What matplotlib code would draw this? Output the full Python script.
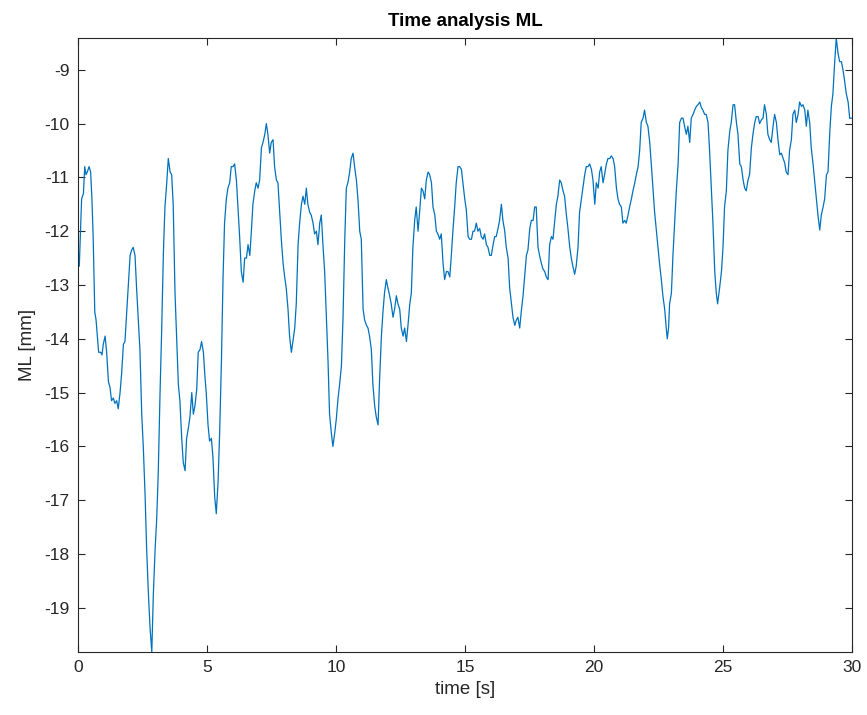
"""Time analysis of the ML (medio-lateral) sway signal."""

import matplotlib
matplotlib.use("Agg")
import matplotlib.pyplot as plt

# values
time_s = [
    0.00, 0.05, 0.14, 0.21, 0.26, 0.31, 0.36, 0.43, 0.49, 0.54, 0.59, 0.65, 0.70, 0.75, 0.80,
    0.88, 0.93, 0.98, 1.05, 1.11, 1.18, 1.24, 1.30, 1.37, 1.43, 1.50, 1.56, 1.63, 1.69, 1.76,
    1.82, 1.89, 1.95, 2.02, 2.08, 2.14, 2.21, 2.27, 2.34, 2.40, 2.47, 2.53, 2.60, 2.66, 2.73,
    2.79, 2.86, 2.92, 2.99, 3.05, 3.11, 3.18, 3.24, 3.31, 3.37, 3.44, 3.50, 3.57, 3.63, 3.69,
    3.76, 3.82, 3.89, 3.95, 4.02, 4.08, 4.15, 4.21, 4.28, 4.34, 4.41, 4.47, 4.53, 4.60, 4.66,
    4.73, 4.79, 4.86, 4.92, 4.97, 5.04, 5.10, 5.17, 5.23, 5.30, 5.36, 5.43, 5.49, 5.56, 5.62,
    5.68, 5.75, 5.81, 5.88, 5.94, 6.01, 6.07, 6.14, 6.20, 6.27, 6.33, 6.40, 6.46, 6.53, 6.59,
    6.66, 6.72, 6.78, 6.85, 6.91, 6.98, 7.04, 7.11, 7.17, 7.24, 7.30, 7.36, 7.43, 7.49, 7.56,
    7.62, 7.69, 7.75, 7.82, 7.88, 7.95, 8.01, 8.07, 8.14, 8.20, 8.27, 8.33, 8.40, 8.46, 8.53,
    8.59, 8.66, 8.72, 8.79, 8.85, 8.91, 8.98, 9.04, 9.11, 9.17, 9.24, 9.30, 9.37, 9.43, 9.50,
    9.56, 9.63, 9.69, 9.75, 9.82, 9.88, 9.95, 10.01, 10.08, 10.14, 10.21, 10.27, 10.34, 10.40,
    10.46, 10.53, 10.59, 10.66, 10.72, 10.79, 10.85, 10.92, 10.98, 11.05, 11.11, 11.18, 11.24,
    11.30, 11.37, 11.43, 11.50, 11.56, 11.63, 11.69, 11.76, 11.82, 11.88, 11.95, 12.01, 12.08,
    12.14, 12.21, 12.27, 12.34, 12.40, 12.47, 12.53, 12.60, 12.66, 12.73, 12.79, 12.86, 12.92,
    12.98, 13.05, 13.11, 13.18, 13.24, 13.31, 13.37, 13.44, 13.50, 13.57, 13.63, 13.70, 13.76,
    13.83, 13.89, 13.95, 14.02, 14.08, 14.15, 14.21, 14.28, 14.34, 14.41, 14.47, 14.53, 14.60,
    14.66, 14.73, 14.79, 14.86, 14.92, 14.99, 15.05, 15.12, 15.18, 15.25, 15.31, 15.37, 15.44,
    15.50, 15.57, 15.63, 15.70, 15.76, 15.83, 15.89, 15.96, 16.02, 16.09, 16.15, 16.21, 16.28,
    16.34, 16.41, 16.47, 16.54, 16.60, 16.67, 16.73, 16.80, 16.86, 16.93, 16.99, 17.05, 17.12,
    17.18, 17.25, 17.31, 17.38, 17.44, 17.51, 17.57, 17.64, 17.70, 17.76, 17.83, 17.89, 17.96,
    18.02, 18.09, 18.15, 18.22, 18.28, 18.35, 18.41, 18.47, 18.54, 18.60, 18.67, 18.73, 18.80,
    18.86, 18.93, 18.99, 19.06, 19.12, 19.18, 19.25, 19.31, 19.38, 19.44, 19.51, 19.57, 19.64,
    19.70, 19.77, 19.83, 19.90, 19.96, 20.03, 20.09, 20.16, 20.22, 20.28, 20.35, 20.41, 20.48,
    20.54, 20.61, 20.67, 20.74, 20.80, 20.87, 20.93, 20.99, 21.06, 21.12, 21.19, 21.25, 21.32,
    21.38, 21.45, 21.51, 21.58, 21.64, 21.71, 21.77, 21.83, 21.90, 21.96, 22.03, 22.09, 22.16,
    22.22, 22.29, 22.35, 22.42, 22.48, 22.54, 22.61, 22.67, 22.74, 22.80, 22.84, 22.89, 22.93,
    23.00, 23.06, 23.13, 23.19, 23.26, 23.32, 23.39, 23.45, 23.51, 23.58, 23.64, 23.71, 23.77,
    23.84, 23.90, 23.97, 24.03, 24.10, 24.16, 24.22, 24.29, 24.35, 24.42, 24.48, 24.55, 24.61,
    24.68, 24.74, 24.79, 24.87, 24.94, 25.00, 25.06, 25.13, 25.19, 25.26, 25.32, 25.39, 25.45,
    25.52, 25.58, 25.65, 25.71, 25.78, 25.84, 25.90, 25.97, 26.03, 26.10, 26.16, 26.23, 26.29,
    26.36, 26.42, 26.49, 26.55, 26.61, 26.68, 26.74, 26.81, 26.87, 26.94, 27.00, 27.07, 27.13,
    27.20, 27.26, 27.33, 27.39, 27.45, 27.52, 27.58, 27.65, 27.71, 27.78, 27.84, 27.91, 27.97,
    28.04, 28.10, 28.17, 28.23, 28.29, 28.36, 28.42, 28.49, 28.55, 28.62, 28.68, 28.75, 28.81,
    28.88, 28.94, 29.01, 29.07, 29.14, 29.20, 29.26, 29.33, 29.39, 29.46, 29.52, 29.59, 29.65,
    29.72, 29.78, 29.85, 29.91, 30.00,
]

ml_mm = [
    -12.55, -12.65, -11.4, -11.3, -10.8, -10.95, -10.9, -10.8, -10.9, -11.4, -12.15, -13.5, -13.65, -13.95, -14.25,
    -14.25, -14.3, -14.1, -13.95, -14.25, -14.8, -14.9, -15.15, -15.1, -15.2, -15.15, -15.3, -15.0, -14.65, -14.1,
    -14.05, -13.5, -13.05, -12.45, -12.35, -12.3, -12.45, -13.05, -13.65, -14.2, -15.4, -16.0, -16.9, -17.9, -18.75,
    -19.35, -19.82, -18.75, -17.9, -17.35, -16.5, -15.0, -13.9, -12.4, -11.55, -11.1, -10.65, -10.9, -10.95, -11.5,
    -13.15, -13.95, -14.85, -15.15, -15.85, -16.3, -16.45, -15.85, -15.65, -15.45, -15.0, -15.4, -15.25, -14.95, -14.25,
    -14.2, -14.05, -14.25, -14.7, -15.0, -15.6, -15.9, -15.85, -16.2, -16.95, -17.25, -16.65, -15.75, -14.4, -12.9,
    -11.85, -11.4, -11.2, -11.1, -10.8, -10.8, -10.75, -11.05, -11.55, -12.15, -12.75, -12.95, -12.5, -12.5, -12.25,
    -12.45, -12.0, -11.5, -11.25, -11.1, -11.2, -11.05, -10.45, -10.35, -10.2, -10.0, -10.2, -10.55, -10.35, -10.3,
    -10.8, -11.05, -11.1, -11.65, -12.15, -12.6, -12.85, -13.05, -13.45, -13.95, -14.25, -14.05, -13.8, -13.35, -12.25,
    -11.85, -11.5, -11.35, -11.5, -11.2, -11.5, -11.65, -11.7, -11.85, -12.05, -12.0, -12.25, -11.85, -11.7, -12.3,
    -12.75, -13.65, -14.4, -15.4, -15.75, -16.0, -15.75, -15.5, -15.1, -14.85, -14.5, -13.65, -12.15, -11.2,
    -11.1, -10.9, -10.65, -10.55, -10.8, -11.05, -11.4, -12.0, -12.15, -13.45, -13.65, -13.75, -13.8,
    -13.95, -14.2, -14.85, -15.25, -15.45, -15.6, -14.75, -13.95, -13.5, -13.15, -12.9, -13.05, -13.2,
    -13.35, -13.6, -13.45, -13.2, -13.35, -13.45, -13.8, -13.95, -13.8, -14.05, -13.75, -13.35, -13.15,
    -12.3, -11.8, -11.55, -12.0, -11.65, -11.2, -11.25, -11.4, -11.05, -10.9, -10.95, -11.1, -11.55,
    -11.7, -12.0, -12.05, -12.15, -12.05, -12.6, -12.9, -12.75, -12.75, -12.85, -12.45, -12.0, -11.55,
    -11.1, -10.8, -10.8, -10.85, -11.1, -11.4, -11.6, -12.1, -12.15, -12.15, -12.0, -12.0, -11.85,
    -12.0, -11.95, -12.1, -12.15, -12.05, -12.25, -12.3, -12.45, -12.45, -12.25, -12.1, -12.1, -11.95,
    -11.8, -11.5, -11.8, -12.0, -12.3, -12.5, -13.05, -13.35, -13.6, -13.75, -13.65, -13.6, -13.8,
    -13.5, -13.2, -12.85, -12.45, -12.35, -11.95, -11.8, -11.8, -11.55, -11.55, -12.3, -12.45, -12.6,
    -12.7, -12.75, -12.85, -12.9, -12.25, -12.1, -12.15, -11.85, -11.5, -11.35, -11.05, -11.1, -11.25,
    -11.35, -11.7, -11.95, -12.3, -12.5, -12.65, -12.8, -12.65, -12.3, -11.65, -11.4, -11.2, -10.95,
    -10.8, -10.8, -10.75, -10.85, -11.05, -11.5, -11.1, -11.2, -10.9, -10.8, -11.1, -10.95, -10.75,
    -10.65, -10.65, -10.6, -10.65, -10.8, -11.2, -11.4, -11.5, -11.55, -11.85, -11.8, -11.85, -11.7,
    -11.55, -11.4, -11.25, -11.1, -10.95, -10.8, -10.5, -9.98, -9.9, -9.75, -9.98, -10.05, -10.35,
    -10.75, -11.25, -11.65, -12.0, -12.3, -12.6, -12.9, -13.2, -13.45, -13.8, -14.0, -13.8, -13.35,
    -13.15, -12.45, -11.8, -11.25, -10.75, -9.98, -9.9, -9.9, -10.05, -10.2, -10.05, -10.35, -9.9,
    -9.83, -9.75, -9.68, -9.65, -9.6, -9.7, -9.75, -9.83, -9.83, -9.98, -10.5, -11.25, -11.85,
    -12.75, -13.15, -13.35, -13.05, -12.75, -12.3, -11.55, -11.25, -10.5, -10.15, -9.98, -9.65, -9.65,
    -9.98, -10.2, -10.75, -10.8, -11.05, -11.2, -11.25, -11.05, -10.95, -10.45, -10.2, -9.98, -9.87,
    -9.87, -10.0, -9.93, -9.9, -9.65, -9.83, -10.2, -10.3, -10.35, -10.05, -9.83, -9.98, -10.3,
    -10.58, -10.55, -10.65, -10.73, -10.9, -10.95, -10.5, -10.3, -9.83, -9.75, -9.98, -9.83, -9.6,
    -9.68, -9.65, -9.75, -10.05, -9.75, -9.98, -10.45, -10.75, -11.05, -11.4, -11.7, -11.98, -11.7,
    -11.55, -11.4, -10.95, -10.9, -10.15, -9.68, -9.45, -8.85, -8.41, -8.7, -8.85, -8.85, -9.0,
    -9.23, -9.45, -9.6, -9.9, -9.9,
]

x_ticks = [0, 5, 10, 15, 20, 25, 30]
y_ticks = [-19, -18, -17, -16, -15, -14, -13, -12, -11, -10, -9]

plt.rcParams["font.family"] = ["Liberation Sans", "DejaVu Sans"]
plt.rcParams["axes.unicode_minus"] = False

fig = plt.figure(figsize=(8.67, 7.15), dpi=100)
ax = fig.add_axes([78 / 867, 1 - 652 / 715, 774 / 867, 614 / 715])

ax.plot(time_s, ml_mm, color="#0072BD", linewidth=0.9)

ax.set_xlim(0, 30)
ax.set_ylim(min(ml_mm), max(ml_mm))
ax.set_xticks(x_ticks)
ax.set_yticks(y_ticks)

ax.tick_params(direction="in", length=5, width=0.8, colors="#262626",
               labelsize=12.5, top=True, right=True, pad=6)
for spine in ax.spines.values():
    spine.set_color("#262626")
    spine.set_linewidth(0.8)

ax.set_title("Time analysis ML", fontsize=13.5, fontweight="bold", color="black", pad=9)
ax.set_xlabel("time [s]", fontsize=13.5, color="#262626", labelpad=4)
ax.set_ylabel("ML [mm]", fontsize=13.5, color="#262626", labelpad=6)

fig.savefig("out.png", dpi=100)
